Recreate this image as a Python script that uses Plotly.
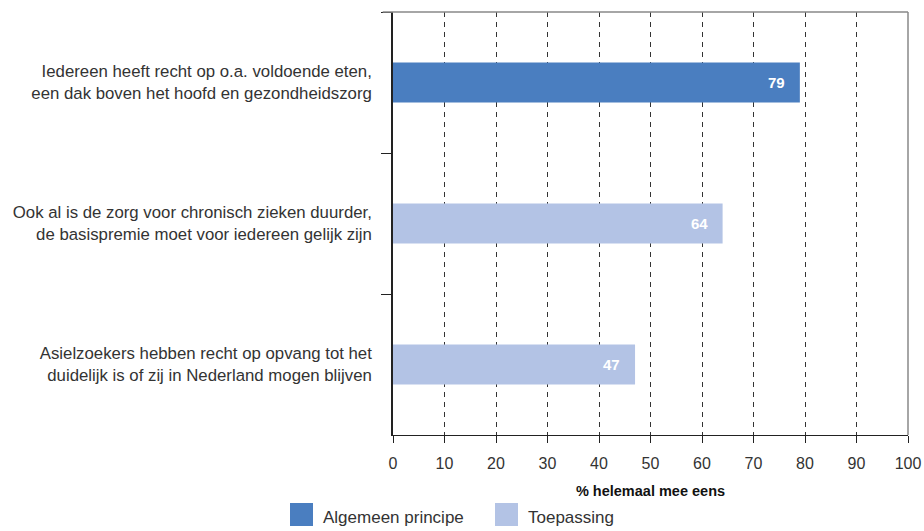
import plotly.graph_objects as go

categories = [
    "Iedereen heeft recht op o.a. voldoende eten,<br>een dak boven het hoofd en gezondheidszorg",
    "Ook al is de zorg voor chronisch zieken duurder,<br>de basispremie moet voor iedereen gelijk zijn",
    "Asielzoekers hebben recht op opvang tot het<br>duidelijk is of zij in Nederland mogen blijven",
]
series_names = ["Algemeen principe", "Toepassing"]
algemeen_cats = [categories[0]]
algemeen_vals = [79]
toepassing_cats = [categories[1], categories[2]]
toepassing_vals = [64, 47]
x_ticks = [0, 10, 20, 30, 40, 50, 60, 70, 80, 90, 100]
x_title = "% helemaal mee eens"

dark = "#4a7ec0"
light = "#b3c3e5"
font = "Liberation Sans"

fig = go.Figure()
fig.add_trace(go.Bar(y=algemeen_cats, x=algemeen_vals, orientation="h", name=series_names[0],
                     marker=dict(color=dark, line=dict(width=0)), width=0.285, showlegend=False))
fig.add_trace(go.Bar(y=toepassing_cats, x=toepassing_vals, orientation="h", name=series_names[1],
                     marker=dict(color=light, line=dict(width=0)), width=0.285, showlegend=False))

for cats, vals in ((algemeen_cats, algemeen_vals), (toepassing_cats, toepassing_vals)):
    for c, v in zip(cats, vals):
        fig.add_annotation(x=v, y=c, text=f"<b>{v}</b>", showarrow=False, xanchor="right",
                           xshift=-13, font=dict(color="white", size=15, family=font))

# legend (large square keys, as in the reference)
legend_items = [(series_names[0], dark, -0.2, -0.1553, -0.1398),
                (series_names[1], light, 0.198, 0.2427, 0.2583)]
shapes = [
    dict(type="line", xref="paper", yref="paper", x0=-0.02, x1=1, y0=1, y1=1,
         line=dict(color="#888888", width=1.5), layer="above"),
    dict(type="line", xref="paper", yref="paper", x0=1, x1=1, y0=0, y1=1,
         line=dict(color="#888888", width=1.5), layer="above"),
]
for name, col, sx0, sx1, tx in legend_items:
    shapes.append(dict(type="rect", xref="paper", yref="paper", x0=sx0, x1=sx1,
                       y0=-0.2151, y1=-0.1608, fillcolor=col, line=dict(width=0)))
    fig.add_annotation(xref="paper", yref="paper", x=tx, y=-0.196, text=name, showarrow=False,
                       xanchor="left", yanchor="middle",
                       font=dict(size=17, color="#333333", family=font))

fig.update_layout(
    width=924, height=531, autosize=False,
    margin=dict(l=393, r=16, t=12, b=96),
    plot_bgcolor="white", paper_bgcolor="white",
    barmode="overlay",
    font=dict(family=font, color="#333333", size=14),
    showlegend=False,
    xaxis=dict(range=[0, 100], tickvals=x_ticks, showgrid=True, gridcolor="#333333",
               griddash="5px,5px", gridwidth=1, showline=True, linecolor="#222222", linewidth=1.3,
               ticks="outside", ticklen=7, tickcolor="#222222", zeroline=False, automargin=False,
               tickfont=dict(size=16, color="#333333"), ticklabelstandoff=7,
               title=dict(text=f"<b>{x_title}</b>", font=dict(size=14.5, color="#111111"), standoff=14)),
    yaxis=dict(categoryorder="array", categoryarray=categories, autorange="reversed",
               showline=True, linecolor="#222222", linewidth=1.5, ticks="outside", ticklen=10,
               tickcolor="#222222", tickson="boundaries", showgrid=False, automargin=False,
               tickfont=dict(size=16.8, color="#333333"), ticklabelstandoff=16),
    shapes=shapes,
)

fig.write_html("out.html", config={"displayModeBar": False, "responsive": False},
               post_script="document.body.style.margin='0';")
